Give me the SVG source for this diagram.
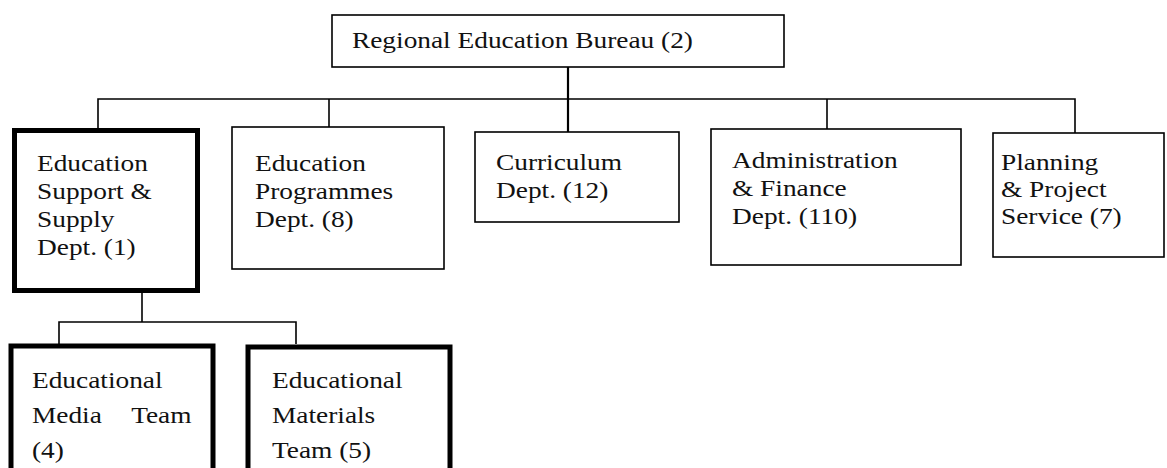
<svg xmlns="http://www.w3.org/2000/svg" width="1167" height="468" viewBox="0 0 1167 468">
  <style>
    .box { fill: #fff; stroke: #000; stroke-width: 1.6; }
    .box.key { stroke-width: 5; }
    .lbl { font-family: "Liberation Serif", "Times New Roman", serif; font-size: 24px; fill: #111; }
    .wire { fill: none; stroke: #000; stroke-width: 1.6; }
    .trunk { stroke-width: 2.2; }
  </style>

  <!-- connectors: trunk from the bureau, department bus, team bus -->
  <g id="connectors">
    <path class="wire trunk" d="M568 67 V132"/>
    <path class="wire" d="M98 128 V99 H1075 V133"/>
    <path class="wire" d="M329 99 V127"/>
    <path class="wire" d="M827 99 V129"/>
    <path class="wire" d="M142 293 V322"/>
    <path class="wire" d="M59 344 V322 H296 V344"/>
  </g>

  <g id="bureau">
    <rect class="box" x="332" y="15" width="452" height="52"/>
    <text class="lbl" transform="translate(352,48) scale(1.14,1)">Regional Education Bureau (2)</text>
  </g>

  <g id="support-supply">
    <rect class="box key" x="14.5" y="130.5" width="183" height="160"/>
    <text class="lbl" transform="translate(37,171) scale(1.14,1)">
      <tspan x="0" y="0">Education</tspan>
      <tspan x="0" y="28">Support &amp;</tspan>
      <tspan x="0" y="56">Supply</tspan>
      <tspan x="0" y="84">Dept. (1)</tspan>
    </text>
  </g>

  <g id="programmes">
    <rect class="box" x="232" y="127" width="212" height="142"/>
    <text class="lbl" transform="translate(255,171) scale(1.14,1)">
      <tspan x="0" y="0">Education</tspan>
      <tspan x="0" y="28">Programmes</tspan>
      <tspan x="0" y="56">Dept. (8)</tspan>
    </text>
  </g>

  <g id="curriculum">
    <rect class="box" x="475" y="132" width="204" height="90"/>
    <text class="lbl" transform="translate(496,170) scale(1.14,1)">
      <tspan x="0" y="0">Curriculum</tspan>
      <tspan x="0" y="28">Dept. (12)</tspan>
    </text>
  </g>

  <g id="admin-finance">
    <rect class="box" x="711" y="129" width="250" height="136"/>
    <text class="lbl" transform="translate(732,168) scale(1.14,1)">
      <tspan x="0" y="0">Administration</tspan>
      <tspan x="0" y="28">&amp; Finance</tspan>
      <tspan x="0" y="56">Dept. (110)</tspan>
    </text>
  </g>

  <g id="planning">
    <rect class="box" x="993" y="133" width="171" height="124"/>
    <text class="lbl" transform="translate(1001,170) scale(1.14,1)">
      <tspan x="0" y="0">Planning</tspan>
      <tspan x="0" y="27">&amp; Project</tspan>
      <tspan x="0" y="54">Service (7)</tspan>
    </text>
  </g>

  <g id="media-team">
    <rect class="box key" x="11" y="346" width="202" height="140"/>
    <text class="lbl" transform="translate(32,388) scale(1.14,1)">
      <tspan x="0" y="0">Educational</tspan>
      <tspan x="0" y="35">Media</tspan><tspan x="87" y="35">Team</tspan>
      <tspan x="0" y="70">(4)</tspan>
    </text>
  </g>

  <g id="materials-team">
    <rect class="box key" x="248" y="347" width="202" height="140"/>
    <text class="lbl" transform="translate(272,388) scale(1.14,1)">
      <tspan x="0" y="0">Educational</tspan>
      <tspan x="0" y="35">Materials</tspan>
      <tspan x="0" y="70">Team (5)</tspan>
    </text>
  </g>
</svg>
